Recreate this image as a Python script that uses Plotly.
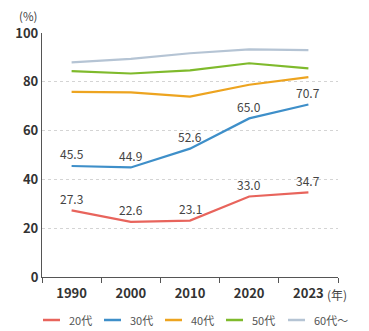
import plotly.graph_objects as go

years = ["1990", "2000", "2010", "2020", "2023"]
s20 = [27.3, 22.6, 23.1, 33.0, 34.7]
s30 = [45.5, 44.9, 52.6, 65.0, 70.7]
s40 = [75.9, 75.7, 73.9, 78.8, 81.9]
s50 = [84.4, 83.4, 84.7, 87.6, 85.5]
s60 = [88.0, 89.4, 91.7, 93.3, 93.0]
names = ["20代", "30代", "40代", "50代", "60代～"]
colors = ["#E8645C", "#3E8FC9", "#EDA420", "#7FBA2C", "#B5C4D4"]
yticks = [0, 20, 40, 60, 80, 100]

FONT = "Noto Sans CJK JP"
W, H = 369, 331
L, R, T, B = 42, 31, 33, 54
PW, PH = W - L - R, H - T - B

def px(x):
    return (x - L) / PW

def py(y):
    return (H - B - y) / PH

fig = go.Figure()
series = [s20, s30, s40, s50, s60]
annotations = []
for i, (s, n, c) in enumerate(zip(series, names, colors)):
    fig.add_trace(go.Scatter(
        x=years, y=s, name=n, mode="lines",
        line=dict(color=c, width=2.2), showlegend=False,
    ))
    if i < 2:
        for k, v in enumerate(s):
            annotations.append(dict(x=k, y=v, xref="x", yref="y", text=f"{v:.1f}",
                                    showarrow=False, yshift=12, yanchor="middle",
                                    font=dict(size=12, color="#444", family=FONT)))

shapes = []
annotations += [
    dict(text="(%)", x=px(28), y=py(16), xref="paper", yref="paper", showarrow=False,
         xanchor="center", yanchor="middle", font=dict(size=11.5, color="#444", family=FONT)),
    dict(text="(年)", x=px(325), y=py(294), xref="paper", yref="paper", showarrow=False,
         xanchor="left", yanchor="middle",
         font=dict(size=12, color="#444", family=FONT)),
]
leg_x = [43, 104, 165, 226, 288]
for xs, n, c in zip(leg_x, names, colors):
    shapes.append(dict(type="line", xref="paper", yref="paper",
                       x0=px(xs), x1=px(xs + 17), y0=py(320), y1=py(320),
                       line=dict(color=c, width=2.5)))
    annotations.append(dict(text=n, x=px(xs + 24), y=py(320), xref="paper", yref="paper",
                            showarrow=False, xanchor="left", yanchor="middle",
                            font=dict(size=11, color="#555", family=FONT)))

fig.update_layout(
    width=W, height=H,
    margin=dict(l=L, r=R, t=T, b=B),
    paper_bgcolor="white", plot_bgcolor="white",
    font=dict(family=FONT, color="#333"),
    showlegend=False,
    xaxis=dict(type="category", range=[-0.5, 4.5], tickson="boundaries",
               ticks="outside", ticklen=5, tickcolor="#555", showline=True,
               linecolor="#555", linewidth=1.2, showgrid=False, automargin=False,
               ticklabelstandoff=4,
               tickfont=dict(size=13, color="#333", family=FONT, weight="bold")),
    yaxis=dict(range=[0, 100], tickvals=yticks, showline=True, linecolor="#555",
               linewidth=1.2, showgrid=True, gridcolor="#d4d4d4", griddash="3px,3px",
               gridwidth=1, zeroline=False, ticks="", automargin=False,
               tickfont=dict(size=13, color="#333", family=FONT, weight="bold")),
    shapes=shapes,
    annotations=annotations,
)
fig.write_html("out.html")
